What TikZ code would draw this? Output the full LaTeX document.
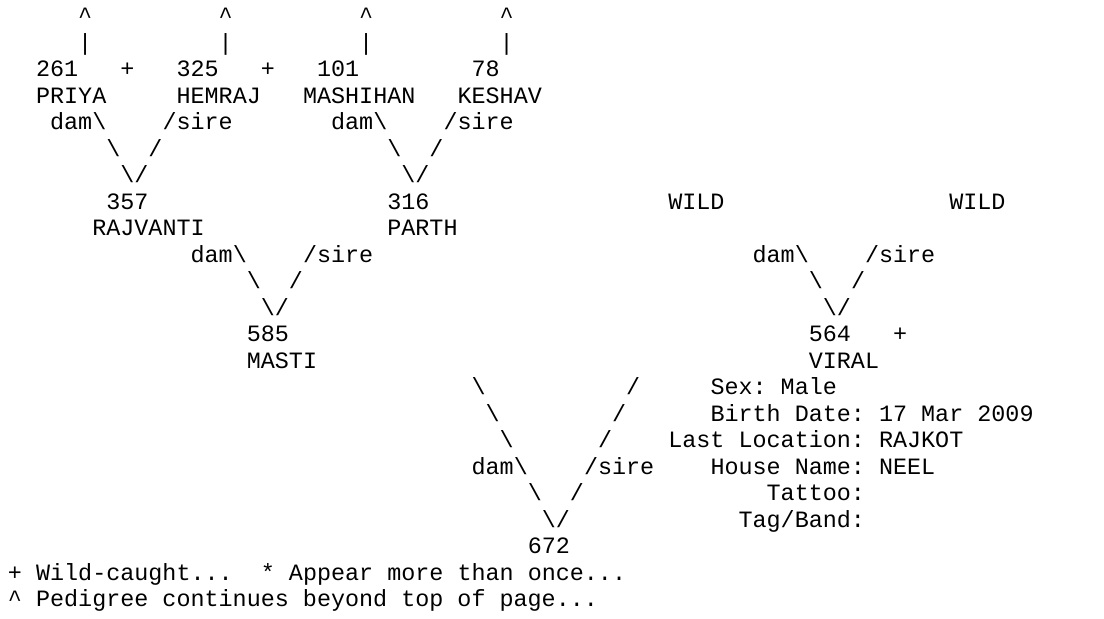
\documentclass[tikz,border=0pt]{standalone}
\usepackage{fontspec}
\newfontfamily\pedfont{Liberation Mono}
\newcommand{\bs}{\textbackslash}
\newcommand{\crt}{\textasciicircum}
\tikzset{
  asc/.style={anchor=base west, inner sep=0pt, outer sep=0pt, text=black,
    font=\pedfont\fontsize{23.41pt}{26.5pt}\selectfont\frenchspacing},
}
\begin{document}
\begin{tikzpicture}[x=14.05pt, y=-26.5pt]
\fill[white] (0,0) rectangle (78.577,23.358);
\useasboundingbox (0,0) rectangle (78.577,23.358);
\begin{scope}[shift={(0.569,0.894)}]
% line 0-1: continuation marks
\node[asc] (up1) at (5,0) {\crt};
\node[asc] (up2) at (15,0) {\crt};
\node[asc] (up3) at (25,0) {\crt};
\node[asc] (up4) at (35,0) {\crt};
\node[asc] (bar1) at (5,1) {|};
\node[asc] (bar2) at (15,1) {|};
\node[asc] (bar3) at (25,1) {|};
\node[asc] (bar4) at (35,1) {|};
% line 2-3: great-grandparents
\node[asc] (n261) at (2,2) {261};
\node[asc] (w261) at (8,2) {+};
\node[asc] (n325) at (12,2) {325};
\node[asc] (w325) at (18,2) {+};
\node[asc] (n101) at (22,2) {101};
\node[asc] (n78) at (33,2) {78};
\node[asc] (priya) at (2,3) {PRIYA};
\node[asc] (hemraj) at (12,3) {HEMRAJ};
\node[asc] (mashihan) at (21,3) {MASHIHAN};
\node[asc] (keshav) at (32,3) {KESHAV};
% V for 357
\node[asc] (dama) at (3,4) {dam\bs};
\node[asc] (sirea) at (11,4) {/sire};
\node[asc] (la1) at (7,5) {\bs};
\node[asc] (ra1) at (10,5) {/};
\node[asc] (va) at (8,6) {\bs/};
% V for 316
\node[asc] (damb) at (23,4) {dam\bs};
\node[asc] (sireb) at (31,4) {/sire};
\node[asc] (lb1) at (27,5) {\bs};
\node[asc] (rb1) at (30,5) {/};
\node[asc] (vb) at (28,6) {\bs/};
% grandparents
\node[asc] (n357) at (7,7) {357};
\node[asc] (n316) at (27,7) {316};
\node[asc] (wild1) at (47,7) {WILD};
\node[asc] (wild2) at (67,7) {WILD};
\node[asc] (rajvanti) at (6,8) {RAJVANTI};
\node[asc] (parth) at (27,8) {PARTH};
% V for 585
\node[asc] (damc) at (13,9) {dam\bs};
\node[asc] (sirec) at (21,9) {/sire};
\node[asc] (lc1) at (17,10) {\bs};
\node[asc] (rc1) at (20,10) {/};
\node[asc] (vc) at (18,11) {\bs/};
% V for 564
\node[asc] (damd) at (53,9) {dam\bs};
\node[asc] (sired) at (61,9) {/sire};
\node[asc] (ld1) at (57,10) {\bs};
\node[asc] (rd1) at (60,10) {/};
\node[asc] (vd) at (58,11) {\bs/};
% parents
\node[asc] (n585) at (17,12) {585};
\node[asc] (n564) at (57,12) {564};
\node[asc] (w564) at (63,12) {+};
\node[asc] (masti) at (17,13) {MASTI};
\node[asc] (viral) at (57,13) {VIRAL};
% V for 672
\node[asc] (le1) at (33,14) {\bs};
\node[asc] (re1) at (44,14) {/};
\node[asc] (le2) at (34,15) {\bs};
\node[asc] (re2) at (43,15) {/};
\node[asc] (le3) at (35,16) {\bs};
\node[asc] (re3) at (42,16) {/};
\node[asc] (dame) at (33,17) {dam\bs};
\node[asc] (siree) at (41,17) {/sire};
\node[asc] (le4) at (37,18) {\bs};
\node[asc] (re4) at (40,18) {/};
\node[asc] (ve) at (38,19) {\bs/};
\node[asc] (n672) at (37,20) {672};
% details
\node[asc] (sex) at (50,14) {Sex: Male};
\node[asc] (birth) at (50,15) {Birth Date: 17 Mar 2009};
\node[asc] (loc) at (47,16) {Last Location: RAJKOT};
\node[asc] (house) at (50,17) {House Name: NEEL};
\node[asc] (tattoo) at (54,18) {Tattoo:};
\node[asc] (tag) at (52,19) {Tag/Band:};
% legend
\node[asc] (leg1) at (0,21) {+ Wild-caught...};
\node[asc] (leg2) at (18,21) {* Appear more than once...};
\node[asc] (leg3) at (0,22) {\crt{} Pedigree continues beyond top of page...};
\end{scope}
\end{tikzpicture}
\end{document}
